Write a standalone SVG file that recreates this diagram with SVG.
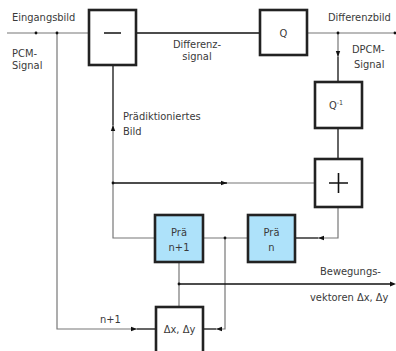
<svg xmlns="http://www.w3.org/2000/svg" width="396" height="351" viewBox="0 0 396 351">
<style>
text{font-family:"Liberation Sans Narrow","DejaVu Sans Condensed","Liberation Sans",sans-serif;font-size:11px;fill:#3a3a3a}
.box{fill:#fff;stroke:#222;stroke-width:2.6}
.pre{fill:#aee2fa;stroke:#222;stroke-width:2.6}
.g{fill:none;stroke:#777;stroke-width:1.2}
.k{fill:none;stroke:#111;stroke-width:1.3}
.dot{fill:#111}
.ah{fill:#111}
.c{text-anchor:middle}
</style>
<g id="connectors">
<path class="g" d="M7,33 H89"/>
<path class="g" d="M57,33 V329 H137"/>
<path class="k" d="M137,329 H157"/>
<path class="k" d="M136,33 H260"/>
<path class="g" d="M307,33 H396"/>
<path class="g" d="M338,33 V57"/>
<path class="k" d="M338,57 V82"/>
<path class="k" d="M338,128 V159"/>
<path class="k" d="M113,65 V125"/>
<path class="g" d="M113,125 V238 H155"/>
<path class="k" d="M113,183 H227"/>
<path class="g" d="M227,183 H315"/>
<path class="g" d="M338,207 V238 H318"/>
<path class="k" d="M318,238 H295"/>
<path class="g" d="M203,238 H248"/>
<path class="g" d="M225,238 V329 H216"/>
<path class="k" d="M216,329 H203"/>
<path class="g" d="M179,262 V307"/>
<path class="k" d="M179,284 H392"/>
<path class="ah" d="M396,284 L390,281.5 L390,286.5 Z"/>
<path class="ah" d="M137,329 L131,326.8 L131,331.2 Z"/>
<path class="ah" d="M338,57 L335.8,51 L340.2,51 Z"/>
<path class="ah" d="M113,125 L110.8,131 L115.2,131 Z"/>
<path class="ah" d="M227,183 L221,180.8 L221,185.2 Z"/>
<path class="ah" d="M318,238 L324,235.8 L324,240.2 Z"/>
<path class="ah" d="M216,329 L222,326.8 L222,331.2 Z"/>
<circle class="dot" cx="36" cy="33" r="1.4"/>
<circle class="dot" cx="57" cy="33" r="1.4"/>
<circle class="dot" cx="338" cy="33" r="1.4"/>
<circle class="dot" cx="395" cy="33" r="1.4"/>
<circle class="dot" cx="113" cy="183" r="1.4"/>
<circle class="dot" cx="225" cy="238" r="1.4"/>
<circle class="dot" cx="179" cy="284" r="1.4"/>
</g>
<g id="minus">
<rect class="box" x="89" y="10" width="47" height="55"/>
<path d="M104,33 H121" stroke="#111" stroke-width="1.5"/>
</g>
<g id="quant">
<rect class="box" x="260" y="10" width="47" height="45"/>
<text class="c" x="283.5" y="37">Q</text>
</g>
<g id="invquant">
<rect class="box" x="315" y="82" width="47" height="46"/>
<text class="c" x="336" y="109">Q<tspan font-size="7" dy="-4">-1</tspan></text>
</g>
<g id="plus">
<rect class="box" x="315" y="159" width="47" height="48"/>
<path d="M329,183 H348 M338.5,173 V193" stroke="#111" stroke-width="1.6"/>
</g>
<g id="pre1">
<rect class="pre" x="155" y="215" width="48" height="47"/>
<text class="c" x="179" y="236">Prä</text>
<text class="c" x="179" y="251">n+1</text>
</g>
<g id="pren">
<rect class="pre" x="248" y="215" width="47" height="47"/>
<text class="c" x="271.5" y="236">Prä</text>
<text class="c" x="271.5" y="251">n</text>
</g>
<g id="motion">
<rect class="box" x="156" y="307" width="47" height="50"/>
<text class="c" x="179.5" y="333">Δx, Δy</text>
</g>
<g id="labels">
<text x="12" y="21">Eingangsbild</text>
<text x="12" y="57">PCM-</text>
<text x="12" y="69">Signal</text>
<text class="c" x="197" y="48">Differenz-</text>
<text class="c" x="197" y="60">signal</text>
<text x="328" y="21">Differenzbild</text>
<text x="352" y="53">DPCM-</text>
<text x="354" y="68">Signal</text>
<text x="123" y="120">Prädiktioniertes</text>
<text x="123" y="135">Bild</text>
<text x="100" y="323">n+1</text>
<text x="320" y="275">Bewegungs-</text>
<text x="310" y="301">vektoren Δx, Δy</text>
</g>
</svg>
